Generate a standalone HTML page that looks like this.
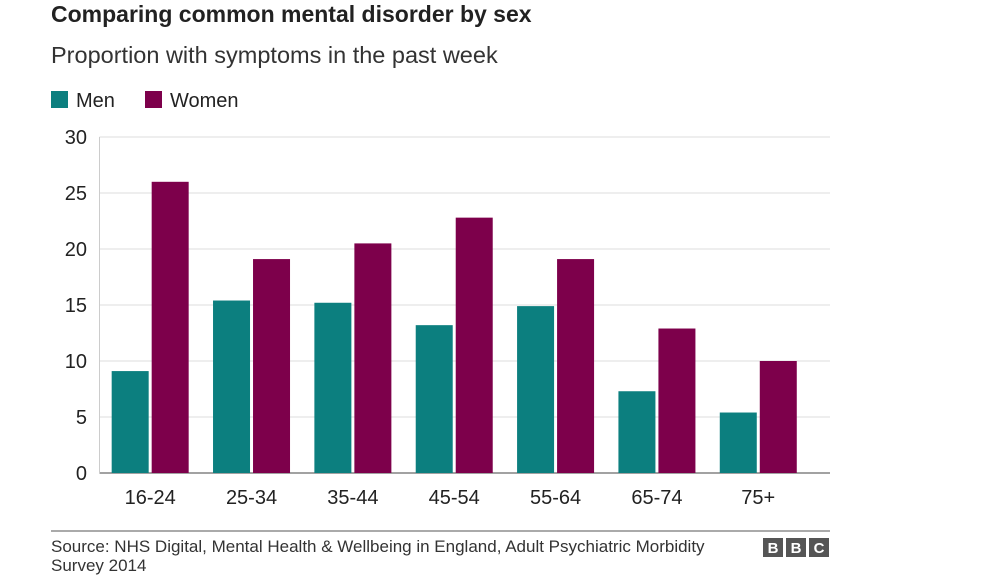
<!DOCTYPE html>
<html><head><meta charset="utf-8"><style>
body{margin:0;background:#fff;font-family:"Liberation Sans",Arial,sans-serif;}
svg text{font-family:"Liberation Sans",Arial,sans-serif;}
</style></head><body>
<svg width="998" height="575" viewBox="0 0 998 575">
<text x="51" y="22" font-size="23" font-weight="bold" fill="#222">Comparing common mental disorder by sex</text>
<text x="51" y="63" font-size="23.5" fill="#333">Proportion with symptoms in the past week</text>
<g>
<rect x="51" y="91" width="17" height="17" fill="#0c7f7f"/>
<text x="76" y="107" font-size="20" fill="#222">Men</text>
<rect x="145" y="91" width="17" height="17" fill="#7d004b"/>
<text x="170" y="107" font-size="20" fill="#222">Women</text>
</g>
<g id="grid"></g><g id="bars"></g><g id="xlabels"></g>
<line x1="51" y1="531" x2="830" y2="531" stroke="#555" stroke-width="1"/>
<text x="51" y="552" font-size="17" fill="#333">Source: NHS Digital, Mental Health &amp; Wellbeing in England, Adult Psychiatric Morbidity</text>
<text x="51" y="571" font-size="17" fill="#333">Survey 2014</text>
<g>
<rect x="763" y="538" width="20" height="19" fill="#555"/><text x="773" y="553" font-size="15" font-weight="bold" fill="#fff" text-anchor="middle">B</text>
<rect x="786" y="538" width="20" height="19" fill="#555"/><text x="796" y="553" font-size="15" font-weight="bold" fill="#fff" text-anchor="middle">B</text>
<rect x="809" y="538" width="20" height="19" fill="#555"/><text x="819" y="553" font-size="15" font-weight="bold" fill="#fff" text-anchor="middle">C</text>
</g>
</svg>
<script>
const categories=["16-24","25-34","35-44","45-54","55-64","65-74","75+"];
const menValues=[9.1,15.4,15.2,13.2,14.9,7.3,5.4];
const womenValues=[26.0,19.1,20.5,22.8,19.1,12.9,10.0];
const yTicks=[0,5,10,15,20,25,30];
const NS="http://www.w3.org/2000/svg";
const plotL=99.5,plotR=830,y0=473,y30=137,step=101.35,barW=37,gap=3;
function y(v){return y0-(v/30)*(y0-y30);}
function xc(i){return plotL+step*(i+0.5);}
function mk(t,a){const e=document.createElementNS(NS,t);for(const k in a)e.setAttribute(k,a[k]);return e;}
const grid=document.getElementById('grid');
yTicks.forEach(t=>{
 const l=mk('line',{x1:plotL,x2:plotR,y1:y(t),y2:y(t),stroke:t===0?'#444':'#ddd','stroke-width':1});
 
 
 grid.appendChild(l);
 const tx=mk('text',{x:87,y:y(t)+7,'font-size':20,fill:'#222','text-anchor':'end'});
 tx.textContent=t;
 
 
 grid.appendChild(tx);
});
const ax=mk('line',{x1:plotL,x2:plotL,y1:y30,y2:y0,stroke:'#ccc','stroke-width':1});


grid.appendChild(ax);
const bars=document.getElementById('bars'),xl=document.getElementById('xlabels');
categories.forEach((c,i)=>{
 const m=mk('rect',{x:xc(i)-gap/2-barW,y:y(menValues[i]),width:barW,height:y0-y(menValues[i]),fill:'#0c7f7f'});
 
 
 bars.appendChild(m);
 const w=mk('rect',{x:xc(i)+gap/2,y:y(womenValues[i]),width:barW,height:y0-y(womenValues[i]),fill:'#7d004b'});
 
 
 bars.appendChild(w);
 const t=mk('text',{x:xc(i),y:504,'font-size':20,fill:'#222','text-anchor':'middle'});
 t.textContent=c;
 
 
 xl.appendChild(t);
});
</script>
</body></html>
